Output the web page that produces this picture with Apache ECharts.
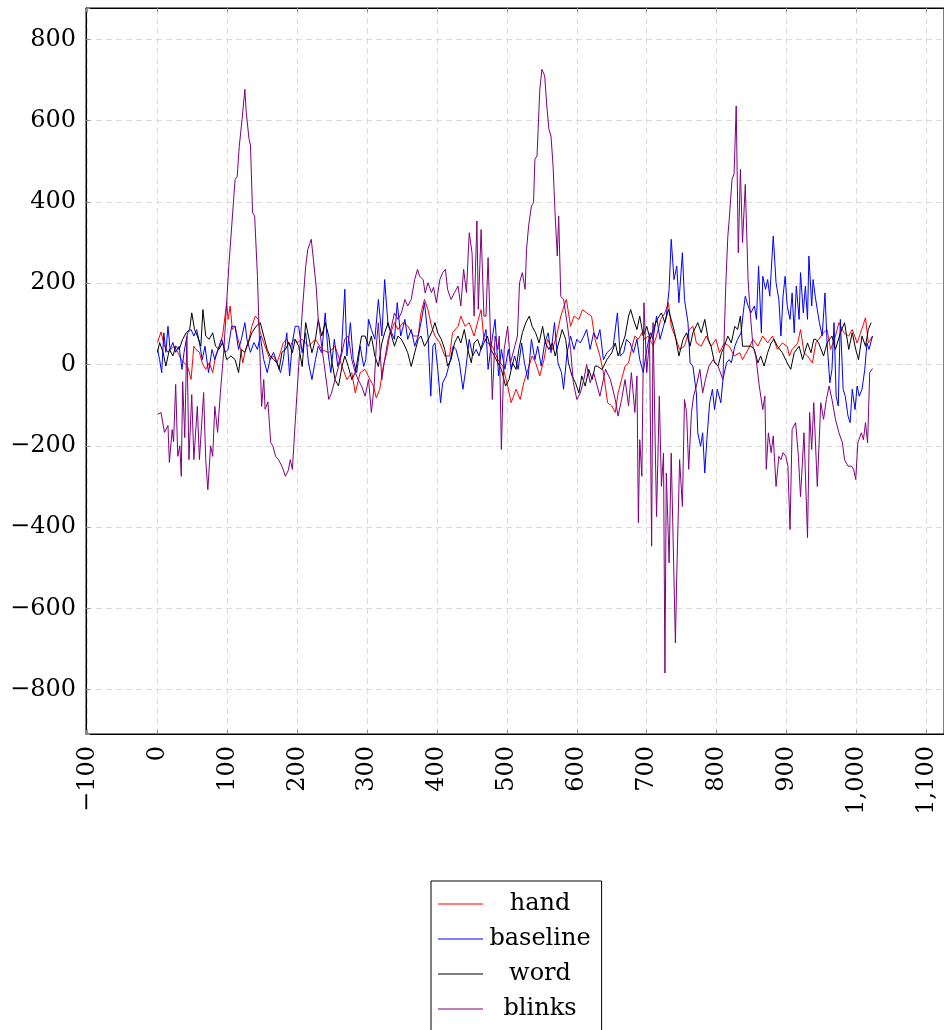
<!DOCTYPE html>
<html><head><meta charset="utf-8">
<script src="https://cdn.jsdelivr.net/npm/echarts@6/dist/echarts.min.js"></script>
<style>html,body{margin:0;padding:0;background:#fff;overflow:hidden}#c{width:944px;height:1060px}</style>
</head><body><div id="c"></div>
<script>
const seriesNames = ['hand', 'baseline', 'word', 'blinks'];
const seriesColors = ['#ff0000', '#0000ff', '#000000', '#800080'];
const xTickValues = [-100,0,100,200,300,400,500,600,700,800,900,1000,1100];
const yTickValues = [-800,-600,-400,-200,0,200,400,600,800];

const hand = [[0,54],[5,80],[10,45],[15,30],[19,37],[24,45],[29,30],[34,12],[38,4],[43,-4],[48,-37],[52,45],[55,37],[60,30],[64,4],[69,-12],[74,4],[79,-20],[83,21],[88,45],[93,70],[99,152],[101,111],[104,144],[107,86],[111,94],[114,70],[119,37],[122,4],[126,37],[131,62],[135,94],[140,119],[144,111],[147,78],[152,54],[157,30],[161,12],[166,21],[171,4],[176,30],[180,54],[185,62],[190,45],[195,62],[200,54],[207,62],[216,45],[226,62],[235,37],[245,29],[254,45],[264,-5],[271,-37],[278,-20],[283,-70],[290,-20],[297,-12],[304,-37],[309,-53],[313,-82],[318,-61],[323,-5],[328,29],[332,70],[339,103],[344,86],[351,103],[358,95],[366,70],[373,70],[377,127],[382,160],[387,135],[392,94],[397,70],[404,53],[411,21],[418,21],[422,78],[430,94],[434,119],[440,94],[446,103],[453,70],[459,111],[463,135],[467,62],[472,53],[479,45],[487,12],[494,-4],[501,-53],[506,-94],[513,-61],[519,-86],[524,-45],[530,-12],[536,21],[541,4],[547,-28],[553,12],[558,62],[565,37],[571,70],[577,119],[580,135],[585,160],[591,94],[596,119],[603,111],[608,135],[614,127],[621,119],[626,62],[633,21],[638,-20],[644,-94],[650,-102],[655,-118],[659,-70],[664,-37],[669,-4],[674,4],[678,37],[683,70],[688,62],[693,78],[697,62],[702,70],[709,45],[714,70],[720,111],[726,127],[731,152],[735,94],[742,62],[747,37],[754,45],[761,86],[766,94],[771,53],[778,45],[785,70],[792,45],[799,62],[804,29],[811,53],[818,45],[825,21],[833,29],[837,12],[845,37],[852,62],[859,45],[866,70],[873,53],[880,70],[887,37],[894,53],[901,45],[904,21],[908,37],[916,53],[920,86],[925,29],[930,21],[937,4],[942,53],[946,62],[953,78],[958,86],[963,37],[970,70],[975,103],[982,78],[989,70],[994,86],[1001,53],[1006,78],[1013,115],[1017,53],[1023,70]];

const baseline = [[0,37],[3,12],[6,-20],[9,78],[12,30],[15,94],[18,37],[22,54],[26,30],[31,45],[35,-12],[38,30],[43,78],[48,86],[52,70],[56,86],[60,54],[64,12],[68,45],[73,-20],[78,37],[82,12],[87,37],[92,62],[97,30],[101,37],[106,94],[111,94],[116,37],[120,62],[125,103],[128,62],[133,30],[138,54],[143,37],[147,70],[152,12],[157,-20],[161,12],[166,30],[171,4],[176,-20],[180,12],[185,78],[189,-28],[193,54],[197,94],[202,94],[207,29],[212,78],[216,4],[221,-37],[226,12],[230,45],[235,29],[240,127],[244,29],[248,-20],[253,62],[258,-5],[263,29],[268,185],[271,21],[276,103],[280,12],[285,-20],[290,45],[295,-5],[298,12],[302,111],[306,86],[311,62],[316,160],[321,70],[325,209],[330,94],[335,78],[339,62],[343,152],[348,70],[354,111],[358,62],[363,86],[368,45],[373,70],[377,103],[382,152],[387,70],[391,-78],[394,45],[397,53],[401,-12],[405,-94],[408,-45],[413,-28],[418,4],[423,45],[427,37],[432,4],[437,-61],[441,-12],[446,62],[451,21],[456,37],[460,21],[465,53],[470,86],[473,-12],[478,53],[483,111],[488,-28],[492,37],[497,-12],[502,37],[506,-12],[511,21],[516,-12],[521,53],[525,4],[530,-37],[535,62],[540,12],[544,45],[549,-4],[554,53],[559,78],[563,29],[568,103],[573,4],[578,-20],[581,-61],[586,29],[591,70],[596,37],[600,62],[605,53],[610,70],[614,86],[619,37],[624,78],[629,62],[633,86],[638,12],[643,29],[648,37],[652,45],[658,127],[662,21],[667,29],[671,62],[676,53],[681,29],[686,62],[690,12],[695,-20],[700,37],[705,78],[709,62],[714,119],[719,62],[724,94],[728,119],[732,185],[735,308],[739,209],[743,242],[746,152],[751,275],[754,160],[759,103],[762,4],[766,-4],[771,-70],[773,-168],[777,-201],[780,-168],[783,-267],[786,-185],[790,-94],[794,-61],[797,-111],[801,-61],[806,-94],[809,-37],[814,4],[818,12],[821,4],[826,45],[830,62],[835,78],[838,127],[841,168],[845,144],[849,127],[854,144],[857,111],[860,242],[864,78],[866,217],[870,185],[873,209],[876,168],[881,316],[885,201],[889,160],[892,70],[895,168],[898,217],[901,144],[905,111],[908,176],[911,78],[914,193],[918,111],[920,226],[924,127],[927,193],[930,111],[932,267],[936,144],[938,209],[941,168],[944,135],[947,103],[951,70],[955,176],[958,53],[962,-45],[965,-12],[968,103],[971,-78],[974,-102],[977,111],[981,-61],[984,-78],[988,-127],[991,-143],[994,-61],[998,-111],[1001,-53],[1004,-78],[1008,-61],[1012,-12],[1015,53],[1018,37],[1023,70]];

const word = [[0,30],[3,54],[8,30],[12,-4],[17,37],[22,21],[26,45],[31,37],[36,62],[41,78],[46,86],[49,127],[53,86],[57,70],[62,45],[65,135],[69,70],[74,62],[79,78],[83,45],[88,37],[93,54],[99,12],[105,21],[111,12],[116,-20],[120,37],[125,30],[130,54],[135,78],[141,94],[147,103],[152,70],[157,37],[161,21],[166,12],[171,4],[174,-12],[178,30],[183,37],[188,54],[193,29],[197,62],[202,45],[207,-5],[212,103],[216,70],[221,29],[226,62],[230,111],[235,70],[240,103],[245,70],[249,12],[254,-37],[259,-53],[264,-5],[268,21],[273,-5],[278,-37],[283,-20],[287,21],[292,70],[297,70],[302,45],[306,70],[311,21],[316,-5],[321,53],[325,78],[330,103],[335,70],[339,45],[344,70],[349,62],[354,45],[358,29],[363,-5],[368,29],[373,62],[377,70],[382,45],[387,60],[392,78],[397,103],[401,78],[406,62],[411,37],[415,-4],[420,12],[425,53],[430,70],[434,53],[439,86],[444,37],[449,4],[453,53],[458,62],[463,37],[467,53],[472,70],[477,37],[482,21],[487,4],[492,-12],[498,-53],[503,-37],[508,4],[513,-12],[517,37],[522,78],[527,103],[532,119],[536,94],[541,78],[546,53],[551,94],[555,53],[560,37],[565,53],[569,21],[574,53],[579,86],[584,62],[588,4],[593,-28],[598,-45],[603,-70],[607,-28],[612,-53],[617,-12],[622,-37],[626,-4],[629,-4],[636,-12],[643,12],[650,29],[655,53],[659,21],[664,45],[669,70],[674,119],[677,135],[681,111],[686,86],[690,119],[695,70],[700,94],[705,62],[709,86],[715,111],[721,127],[726,103],[731,135],[735,111],[740,78],[746,21],[752,62],[757,78],[762,45],[766,78],[773,103],[778,78],[783,111],[788,62],[792,45],[797,4],[802,-4],[807,29],[811,45],[816,70],[821,53],[826,94],[830,86],[834,119],[837,45],[842,45],[849,45],[854,37],[859,4],[863,21],[868,-4],[873,29],[878,53],[882,62],[887,45],[894,29],[901,4],[906,-12],[911,29],[918,45],[923,12],[930,53],[935,29],[939,62],[942,62],[946,53],[953,21],[958,53],[965,70],[970,37],[977,78],[983,103],[989,37],[994,78],[999,37],[1003,12],[1008,70],[1013,45],[1017,86],[1021,103]];

const blinks = [[0,-123],[5,-118],[10,-167],[15,-150],[17,-241],[21,-160],[23,-190],[26,-49],[29,-226],[32,-200],[34,-275],[36,-42],[39,-180],[42,69],[45,-234],[49,-74],[52,-234],[57,-103],[60,-234],[66,-69],[69,-234],[72,-308],[76,-200],[79,-226],[82,-103],[86,-167],[90,-69],[95,37],[102,241],[111,455],[114,462],[117,537],[119,537],[121,603],[125,677],[127,620],[131,554],[133,540],[136,374],[139,365],[143,217],[146,54],[149,-103],[152,-37],[154,-110],[158,-92],[162,-192],[165,-200],[169,-226],[173,-234],[178,-250],[183,-275],[187,-261],[190,-234],[193,-258],[197,-143],[202,-5],[207,127],[212,241],[215,283],[220,308],[223,259],[227,192],[230,111],[235,45],[240,-20],[245,-86],[249,-70],[254,-37],[259,-5],[264,29],[268,62],[273,70],[278,12],[283,-20],[287,-37],[292,-53],[297,-78],[302,-37],[306,-118],[310,-53],[313,45],[316,103],[321,-37],[325,12],[330,62],[335,95],[339,127],[344,111],[349,127],[354,160],[358,144],[363,160],[368,209],[372,234],[375,217],[380,209],[383,176],[387,201],[392,177],[395,190],[399,152],[404,209],[408,226],[412,234],[415,185],[420,160],[425,177],[430,193],[434,144],[438,234],[442,177],[446,324],[450,275],[453,119],[457,353],[459,136],[463,332],[467,119],[470,119],[473,263],[477,37],[479,-86],[483,70],[487,37],[489,70],[492,-209],[496,37],[501,94],[505,4],[510,37],[515,70],[518,201],[522,226],[526,185],[528,283],[531,341],[535,390],[538,398],[540,505],[543,513],[547,677],[550,726],[554,710],[557,636],[560,579],[563,562],[566,488],[569,365],[572,267],[574,365],[577,168],[581,160],[586,103],[591,37],[595,-45],[600,-86],[605,-70],[610,-37],[614,0],[619,-45],[624,-20],[633,-78],[641,-12],[648,-37],[655,-86],[659,-127],[664,-86],[669,-37],[674,-102],[678,-20],[683,-118],[686,-28],[688,-389],[690,-185],[693,-275],[696,152],[700,-20],[704,62],[707,-447],[709,103],[714,-374],[718,-78],[721,-300],[724,-218],[726,-759],[728,-267],[732,-488],[735,-218],[741,-685],[743,-513],[747,-234],[751,-349],[754,-86],[757,-118],[760,-258],[764,-118],[767,-78],[771,-53],[776,-12],[780,-70],[784,-37],[789,-4],[795,12],[802,-4],[809,-37],[813,192],[816,315],[818,357],[822,455],[825,470],[828,636],[831,275],[834,480],[837,300],[841,443],[845,209],[848,127],[852,45],[856,21],[861,-53],[866,-111],[869,-78],[871,-258],[874,-168],[878,-217],[881,-176],[885,-300],[889,-226],[892,-234],[895,-217],[899,-226],[902,-250],[905,-406],[908,-160],[913,-143],[917,-226],[920,-325],[925,-168],[930,-426],[933,-118],[936,-209],[939,-94],[944,-300],[949,-94],[953,-135],[957,-86],[961,-53],[965,-86],[970,-135],[975,-168],[980,-193],[983,-234],[988,-250],[993,-250],[996,-258],[999,-283],[1002,-193],[1007,-168],[1010,-185],[1013,-143],[1016,-193],[1019,-20],[1023,-10]];

const seriesData = [hand, baseline, word, blinks];
const FONT = 'DejaVu Serif';

function fmtNum(v) {
  const a = Math.abs(v);
  const s = a >= 1000 ? a.toString().replace(/\B(?=(\d{3})+(?!\d))/g, ',') : a.toString();
  return (v < 0 ? '\u2212' : '') + s;
}
function xLabel(v) { return xTickValues.indexOf(v) >= 0 ? fmtNum(v) : ''; }
function yLabel(v) { return yTickValues.indexOf(v) >= 0 ? fmtNum(v) : ''; }

const grid = {left: 86, top: 8, width: 860, height: 726, show: true, borderColor: '#000', borderWidth: 1, backgroundColor: 'transparent'};
const splitLine = {show: true, lineStyle: {color: '#dcdcdc', type: [6, 4], width: 1}};
const tick = {show: true, inside: true, length: 4, lineStyle: {color: '#8c8c8c'}};
const axisLine = {show: true, onZero: false, lineStyle: {color: '#000'}};

const option = {
  animation: false,
  backgroundColor: '#fff',
  grid: grid,
  xAxis: [{
    type: 'value', position: 'bottom', min: -102.3, max: 1125.3, minInterval: 100, maxInterval: 100,
    axisLine: axisLine, axisTick: tick, splitLine: splitLine,
    axisLabel: {formatter: xLabel, rotate: 90, margin: 12, fontFamily: FONT, fontSize: 24, color: '#000'}
  }, {
    type: 'value', position: 'top', min: -102.3, max: 1125.3, minInterval: 100, maxInterval: 100,
    axisLine: axisLine, axisTick: tick, splitLine: {show: false}, axisLabel: {show: false}
  }],
  yAxis: [{
    type: 'value', position: 'left', min: -909, max: 877, minInterval: 200, maxInterval: 200,
    axisLine: axisLine, axisTick: tick, splitLine: splitLine,
    axisLabel: {formatter: yLabel, margin: 10, fontFamily: FONT, fontSize: 24, color: '#000'}
  }],
  legend: {
    orient: 'vertical', left: 431, top: 881,
    itemWidth: 45, itemHeight: 1, itemGap: 11, icon: 'rect',
    padding: [11, 11, 14, 7],
    borderColor: '#000', borderWidth: 1, borderRadius: 0, backgroundColor: '#fff',
    data: seriesNames,
    formatter: function (n) { return '{c|' + n + '}'; },
    textStyle: {fontFamily: FONT, fontSize: 24, color: '#000',
      rich: {c: {width: 104, align: 'center', fontFamily: FONT, fontSize: 24, color: '#000'}}}
  },
  series: seriesNames.map(function (name, i) {
    return {
      name: name, type: 'line', xAxisIndex: 0, yAxisIndex: 0,
      data: seriesData[i], showSymbol: false, symbol: 'none',
      color: seriesColors[i],
      lineStyle: {color: seriesColors[i], width: 1}, z: 2 + i
    };
  })
};
const chart = echarts.init(document.getElementById('c'), null, {renderer: 'canvas'});
chart.setOption(option);
</script>
</body></html>
